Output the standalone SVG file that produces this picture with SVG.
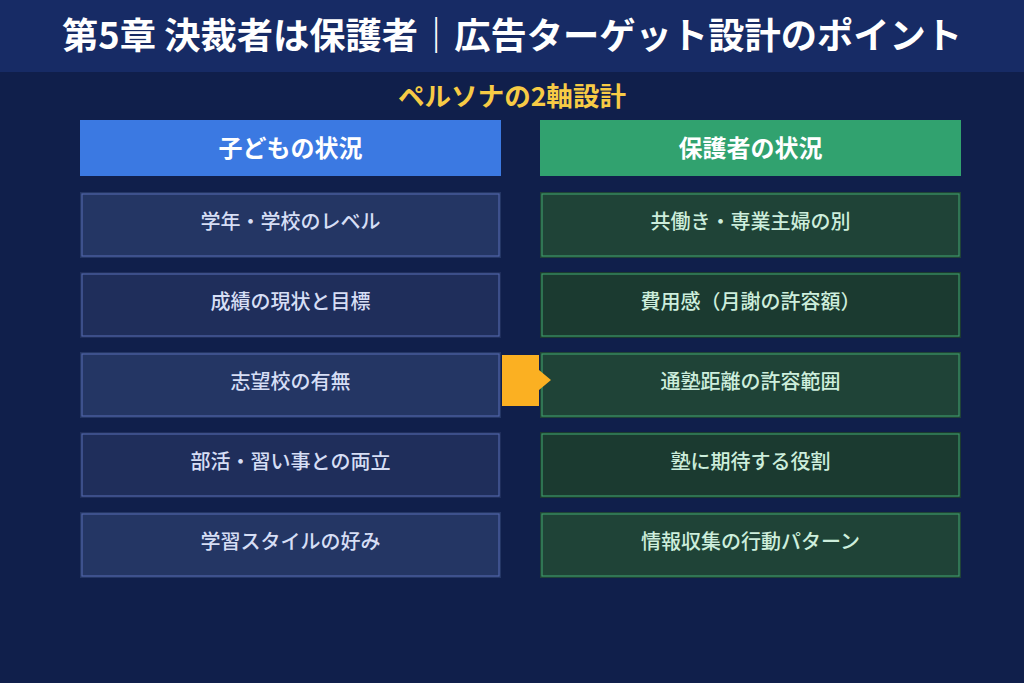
<svg xmlns="http://www.w3.org/2000/svg" width="1024" height="683" viewBox="0 0 1024 683">
<style>
text{font-family:"Noto Sans CJK JP","Noto Sans",sans-serif;text-anchor:middle}
.title{font-size:36px;font-weight:700;fill:#ffffff}
.sub{font-size:26px;font-weight:700;fill:#f7cb45}
.hd{font-size:24px;font-weight:700;fill:#ffffff}
.it{font-size:20px;font-weight:500}
.lt{fill:#d6def5}.gt{fill:#cdeedc}
.b1{fill:#243664}.b2{fill:#1f2e5b}
.g1{fill:#1f4337}.g2{fill:#1b3a30}
.bs{fill:none;stroke:#5065a8;stroke-width:1.2}
.gs{fill:none;stroke:#3d9868;stroke-width:1.2}
</style>
<rect width="1024" height="683" fill="#101f4b"/>
<rect width="1024" height="72" fill="#172b65"/>
<text class="title" x="512" y="49" textLength="900" lengthAdjust="spacingAndGlyphs">第5章 決裁者は保護者｜広告ターゲット設計のポイント</text>
<text class="sub" x="512" y="106" textLength="228" lengthAdjust="spacingAndGlyphs">ペルソナの2軸設計</text>
<g id="hdr-child"><rect x="80" y="120" width="421" height="56" fill="#3b79e2"/><text class="hd" x="290.5" y="157">子どもの状況</text></g>
<g id="hdr-parent"><rect x="540" y="120" width="421" height="56" fill="#31a26f"/><text class="hd" x="750.5" y="157">保護者の状況</text></g>
<g id="c1"><rect class="b1" x="80" y="192" width="421" height="66"/><rect class="bs" x="82" y="194" width="417" height="62"/><text class="it lt" x="290.5" y="229">学年・学校のレベル</text></g>
<g id="c2"><rect class="b2" x="80" y="272" width="421" height="66"/><rect class="bs" x="82" y="274" width="417" height="62"/><text class="it lt" x="290.5" y="309">成績の現状と目標</text></g>
<g id="c3"><rect class="b1" x="80" y="352" width="421" height="66"/><rect class="bs" x="82" y="354" width="417" height="62"/><text class="it lt" x="290.5" y="389">志望校の有無</text></g>
<g id="c4"><rect class="b2" x="80" y="432" width="421" height="66"/><rect class="bs" x="82" y="434" width="417" height="62"/><text class="it lt" x="290.5" y="469">部活・習い事との両立</text></g>
<g id="c5"><rect class="b1" x="80" y="512" width="421" height="66"/><rect class="bs" x="82" y="514" width="417" height="62"/><text class="it lt" x="290.5" y="549">学習スタイルの好み</text></g>
<g id="p1"><rect class="g1" x="540" y="192" width="421" height="66"/><rect class="gs" x="542" y="194" width="417" height="62"/><text class="it gt" x="750.5" y="229">共働き・専業主婦の別</text></g>
<g id="p2"><rect class="g2" x="540" y="272" width="421" height="66"/><rect class="gs" x="542" y="274" width="417" height="62"/><text class="it gt" x="750.5" y="309">費用感（月謝の許容額）</text></g>
<g id="p3"><rect class="g1" x="540" y="352" width="421" height="66"/><rect class="gs" x="542" y="354" width="417" height="62"/><text class="it gt" x="750.5" y="389">通塾距離の許容範囲</text></g>
<g id="p4"><rect class="g2" x="540" y="432" width="421" height="66"/><rect class="gs" x="542" y="434" width="417" height="62"/><text class="it gt" x="750.5" y="469">塾に期待する役割</text></g>
<g id="p5"><rect class="g1" x="540" y="512" width="421" height="66"/><rect class="gs" x="542" y="514" width="417" height="62"/><text class="it gt" x="750.5" y="549">情報収集の行動パターン</text></g>
<g id="connectors">
<path d="M502 355 H539 V370 L551 380 L539 390 V406 H502 Z" fill="#fbb022"/>
</g>
</svg>
